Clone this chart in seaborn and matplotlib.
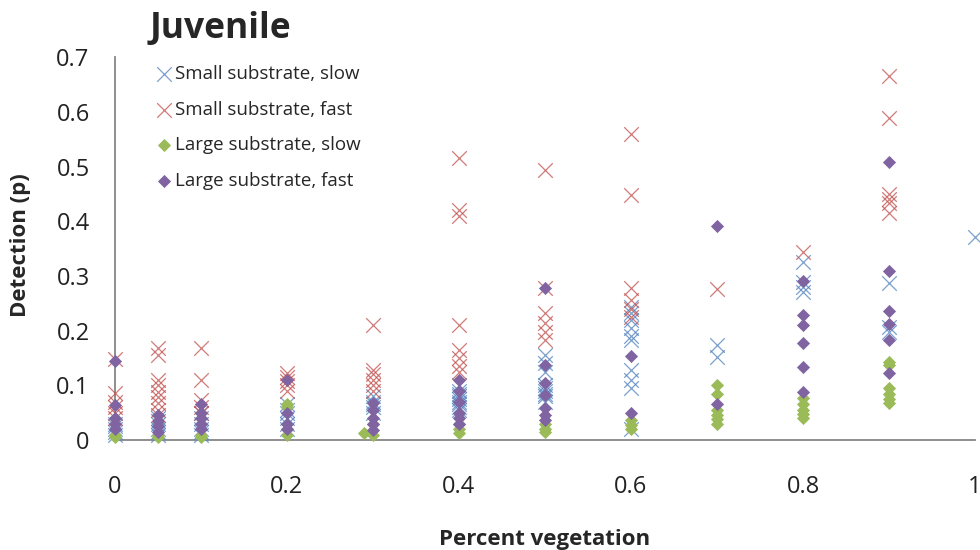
import matplotlib
matplotlib.use("Agg")
import matplotlib.pyplot as plt
import seaborn as sns
import pandas as pd

# series values
small_slow_x = [0]*5 + [0.05]*6 + [0.1]*6 + [0.2]*6 + [0.3]*5 + [0.4]*9 + [0.5]*9 + [0.6]*10 + [0.7]*2 + [0.8]*4 + [0.9]*3 + [1.0]
small_slow_y = [0.03, 0.025, 0.02, 0.015, 0.01,
                0.04, 0.035, 0.03, 0.02, 0.015, 0.01,
                0.05, 0.04, 0.03, 0.02, 0.015, 0.01,
                0.065, 0.055, 0.05, 0.04, 0.03, 0.02,
                0.08, 0.07, 0.065, 0.06, 0.05,
                0.1, 0.09, 0.085, 0.08, 0.075, 0.07, 0.065, 0.06, 0.055,
                0.155, 0.14, 0.125, 0.1, 0.095, 0.09, 0.085, 0.08, 0.07,
                0.243, 0.232, 0.22, 0.205, 0.19, 0.183, 0.128, 0.11, 0.095, 0.02,
                0.174, 0.152,
                0.325, 0.289, 0.28, 0.27,
                0.287, 0.207, 0.197,
                0.371]

small_fast_x = [0]*6 + [0.05]*9 + [0.1]*5 + [0.2]*5 + [0.3]*6 + [0.4]*8 + [0.5]*6 + [0.6]*6 + [0.7] + [0.8] + [0.9]*6
small_fast_y = [0.148, 0.086, 0.07, 0.06, 0.05, 0.04,
                0.168, 0.155, 0.11, 0.1, 0.088, 0.078, 0.068, 0.055, 0.045,
                0.168, 0.11, 0.073, 0.06, 0.05,
                0.122, 0.115, 0.108, 0.1, 0.09,
                0.21, 0.128, 0.12, 0.11, 0.1, 0.09,
                0.515, 0.42, 0.41, 0.21, 0.165, 0.15, 0.135, 0.125,
                0.494, 0.278, 0.232, 0.214, 0.197, 0.183,
                0.56, 0.448, 0.278, 0.256, 0.24, 0.225,
                0.276,
                0.343,
                0.665, 0.588, 0.45, 0.44, 0.433, 0.415]

large_slow_x = [0]*2 + [0.05]*2 + [0.1]*2 + [0.2]*4 + [0.29] + [0.3]*2 + [0.4]*3 + [0.5]*3 + [0.6]*3 + [0.7]*6 + [0.8]*5 + [0.9]*6
large_slow_y = [0.01, 0.005,
                0.01, 0.005,
                0.01, 0.005,
                0.065, 0.06, 0.02, 0.01,
                0.012,
                0.03, 0.01,
                0.03, 0.02, 0.012,
                0.03, 0.02, 0.015,
                0.037, 0.028, 0.02,
                0.1, 0.085, 0.055, 0.045, 0.038, 0.03,
                0.077, 0.065, 0.055, 0.048, 0.04,
                0.143, 0.138, 0.095, 0.085, 0.075, 0.068]

large_fast_x = [0]*5 + [0.05]*4 + [0.1]*5 + [0.2]*4 + [0.3]*5 + [0.4]*6 + [0.5]*7 + [0.6]*2 + [0.7]*2 + [0.8]*6 + [0.9]*6
large_fast_y = [0.145, 0.064, 0.04, 0.03, 0.02,
                0.045, 0.035, 0.025, 0.015,
                0.065, 0.05, 0.04, 0.03, 0.02,
                0.11, 0.05, 0.03, 0.02,
                0.068, 0.055, 0.04, 0.03, 0.018,
                0.11, 0.09, 0.07, 0.05, 0.04, 0.03,
                0.278, 0.137, 0.104, 0.082, 0.058, 0.045, 0.037,
                0.154, 0.05,
                0.391, 0.066,
                0.29, 0.228, 0.21, 0.177, 0.134, 0.088,
                0.508, 0.309, 0.236, 0.212, 0.183, 0.122]

labels = ["Small substrate, slow", "Small substrate, fast",
          "Large substrate, slow", "Large substrate, fast"]
colors = ["#4F81BD", "#C0504D", "#9BBB59", "#8064A2"]
x_ticks = [0, 0.2, 0.4, 0.6, 0.8, 1]
x_tick_labels = ["0", "0.2", "0.4", "0.6", "0.8", "1"]
y_ticks = [0, 0.1, 0.2, 0.3, 0.4, 0.5, 0.6, 0.7]
y_tick_labels = ["0", "0.1", "0.2", "0.3", "0.4", "0.5", "0.6", "0.7"]

sns.set_style("white")
plt.rcParams["font.family"] = ["Open Sans", "DejaVu Sans"]

fig = plt.figure(figsize=(9.8, 5.5), dpi=100)
ax = fig.add_axes([0.117, 0.2, 0.878, 0.696])

series = [(small_slow_x, small_slow_y, "x"), (small_fast_x, small_fast_y, "x"),
          (large_slow_x, large_slow_y, "D"), (large_fast_x, large_fast_y, "D")]
for (xs, ys, mk), lab, col in zip(series, labels, colors):
    df = pd.DataFrame({"x": xs, "y": ys})
    if mk == "x":
        sns.scatterplot(data=df, x="x", y="y", ax=ax, marker="x", color=col,
                        s=110, linewidth=0.9, alpha=0.75, label=lab, clip_on=False, zorder=3)
    else:
        sns.scatterplot(data=df, x="x", y="y", ax=ax, marker="D", color=col,
                        s=45, linewidth=0, label=lab, clip_on=False, zorder=4)

ax.set_xlim(0, 1)
ax.set_ylim(0, 0.7)
ax.set_xticks(x_ticks)
ax.set_xticklabels(x_tick_labels)
ax.set_yticks(y_ticks)
ax.set_yticklabels(y_tick_labels)
ax.tick_params(axis="both", length=0, labelsize=17, colors="#222222")
ax.tick_params(axis="x", pad=25)
ax.tick_params(axis="y", pad=18)
sns.despine(ax=ax)
for sp in ["left", "bottom"]:
    ax.spines[sp].set_color("#868686")
    ax.spines[sp].set_linewidth(1.3)

ax.set_xlabel("Percent vegetation", fontsize=16, fontweight="bold")
ax.set_ylabel("Detection (p)", fontsize=16, fontweight="bold")
ax.xaxis.set_label_coords(0.5, -0.232)
ax.yaxis.set_label_coords(-0.097, 0.51)
fig.text(0.153, 0.948, "Juvenile", fontsize=25.5, fontweight="bold", va="center", ha="left")

ax.legend(loc="upper left", bbox_to_anchor=(0.035, 1.0), frameon=False, fontsize=13.5,
          handletextpad=0.0, handlelength=1.2, labelspacing=0.95, borderaxespad=0)

fig.savefig("out.png", dpi=100)
